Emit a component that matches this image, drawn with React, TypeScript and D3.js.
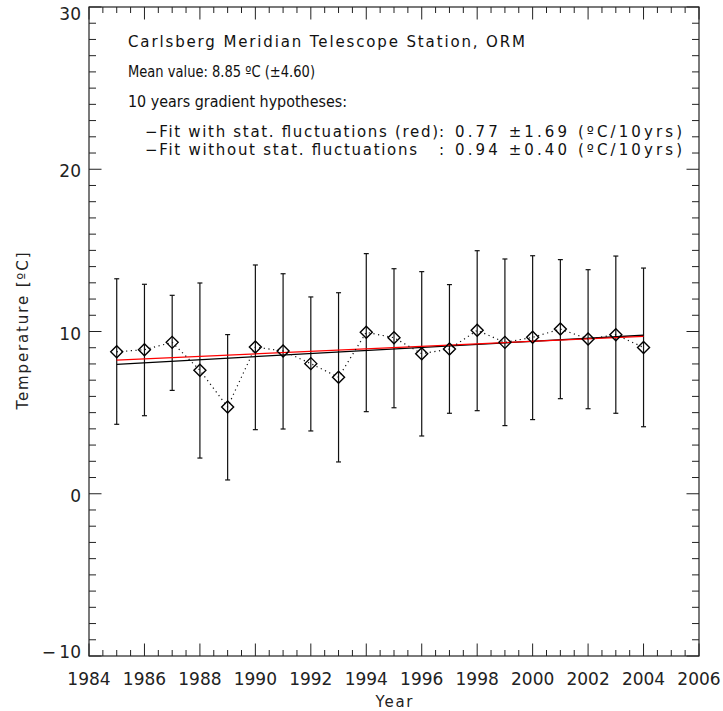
import React, { useRef, useEffect } from "react";
import * as d3 from "d3";

// yearly mean temperature with its error range (ºC)
const years = [1985, 1986, 1987, 1988, 1989, 1990, 1991, 1992, 1993, 1994, 1995, 1996, 1997, 1998, 1999, 2000, 2001, 2002, 2003, 2004];
const meanTemp = [8.75, 8.88, 9.33, 7.61, 5.35, 9.04, 8.8, 8.02, 7.18, 9.95, 9.62, 8.63, 8.92, 10.07, 9.33, 9.64, 10.15, 9.54, 9.8, 9.02];
const upperTemp = [13.25, 12.91, 12.23, 12.99, 9.81, 14.1, 13.56, 12.13, 12.39, 14.8, 13.87, 13.69, 12.89, 14.98, 14.47, 14.67, 14.43, 13.81, 14.65, 13.91];
const lowerTemp = [4.28, 4.81, 6.37, 2.2, 0.85, 3.95, 3.99, 3.87, 1.96, 5.06, 5.3, 3.56, 4.96, 5.12, 4.2, 4.57, 5.86, 5.24, 4.96, 4.13];

// fit lines: value at first and last year
const fitYears = [1985, 2004];
const redFit = [8.24, 9.7];
const blackFit = [7.98, 9.77];

const xTicks = [1984, 1986, 1988, 1990, 1992, 1994, 1996, 1998, 2000, 2002, 2004, 2006];
const yTicks = [-10, 0, 10, 20, 30];

const infoLines = [
  "Carlsberg Meridian Telescope Station, ORM",
  "Mean value: 8.85 ºC (±4.60)",
  "10 years gradient hypotheses:",
];
const fitLabels = ["−Fit with stat. fluctuations (red)", "−Fit without stat. fluctuations"];
const fitValues = [": 0.77  ±1.69 (ºC/10yrs)", ": 0.94  ±0.40 (ºC/10yrs)"];

const FONT = "'DejaVu Sans', sans-serif";

const App = () => {
  const svgRef = useRef(null);

  useEffect(() => {
    const width = 723, height = 711;
    const margin = { top: 7, right: 24, bottom: 55, left: 89 };

    const svg = d3.select(svgRef.current)
      .attr("width", width)
      .attr("height", height);

    svg.selectAll("*").remove();

    const x = d3.scaleLinear()
      .domain([1984, 2006])
      .range([margin.left, width - margin.right]);

    const y = d3.scaleLinear()
      .domain([-10, 30])
      .range([height - margin.bottom, margin.top]);

    const axisColor = "#222";

    // frame
    svg.append("rect")
      .attr("x", x(1984))
      .attr("y", y(30))
      .attr("width", x(2006) - x(1984))
      .attr("height", y(-10) - y(30))
      .attr("fill", "none")
      .attr("stroke", axisColor)
      .attr("stroke-width", 1.2);

    // x ticks: major every 2 yrs, minor every half year
    const xMinor = d3.range(1984, 2006.01, 0.5);
    xMinor.forEach(v => {
      const major = Math.abs(v / 2 - Math.round(v / 2)) < 1e-6;
      const len = major ? 12.5 : 6;
      svg.append("line")
        .attr("x1", x(v)).attr("x2", x(v))
        .attr("y1", y(-10)).attr("y2", y(-10) - len)
        .attr("stroke", axisColor);
      svg.append("line")
        .attr("x1", x(v)).attr("x2", x(v))
        .attr("y1", y(30)).attr("y2", y(30) + len)
        .attr("stroke", axisColor);
    });

    // y ticks: major every 10, minor every 1
    const yMinor = d3.range(-10, 30.01, 1);
    yMinor.forEach(v => {
      const major = v % 10 === 0;
      const len = major ? 12.5 : 7;
      svg.append("line")
        .attr("x1", x(1984)).attr("x2", x(1984) + len)
        .attr("y1", y(v)).attr("y2", y(v))
        .attr("stroke", axisColor);
      svg.append("line")
        .attr("x1", x(2006)).attr("x2", x(2006) - len)
        .attr("y1", y(v)).attr("y2", y(v))
        .attr("stroke", axisColor);
    });

    svg.selectAll(".xlab")
      .data(xTicks)
      .enter()
      .append("text")
      .attr("x", d => x(d))
      .attr("y", 685)
      .attr("text-anchor", "middle")
      .style("font-family", FONT)
      .style("font-size", "17px")
      .attr("fill", "#222")
      .text(d => d);

    // end labels are pushed inside the frame, as in the original
    svg.selectAll(".ylab")
      .data(yTicks)
      .enter()
      .append("text")
      .attr("x", x(1984) - 8)
      .attr("y", d => Math.min(Math.max(y(d) + 8, 19.5), 657.5))
      .attr("text-anchor", "end")
      .style("font-family", FONT)
      .style("font-size", "17px")
      .attr("fill", "#222")
      .text(d => (d < 0 ? "−\u2009" + Math.abs(d) : d));

    // axis titles
    svg.append("text")
      .attr("x", x(1995))
      .attr("y", 707)
      .attr("text-anchor", "middle")
      .style("font-family", FONT)
      .style("font-size", "15px")
      .attr("textLength", 37)
      .attr("lengthAdjust", "spacing")
      .attr("fill", "#222")
      .text("Year");

    svg.append("text")
      .attr("transform", `translate(28,331) rotate(-90)`)
      .attr("text-anchor", "middle")
      .style("font-family", FONT)
      .style("font-size", "15px")
      .attr("textLength", 157)
      .attr("lengthAdjust", "spacing")
      .attr("fill", "#222")
      .text("Temperature [ºC]");

    // error bars
    const cap = 2.5;
    years.forEach((yr, i) => {
      const cx = x(yr);
      svg.append("line")
        .attr("x1", cx).attr("x2", cx)
        .attr("y1", y(upperTemp[i])).attr("y2", y(lowerTemp[i]))
        .attr("stroke", "#111").attr("stroke-width", 1.2);
      [upperTemp[i], lowerTemp[i]].forEach(v => {
        svg.append("line")
          .attr("x1", cx - cap).attr("x2", cx + cap)
          .attr("y1", y(v)).attr("y2", y(v))
          .attr("stroke", "#111").attr("stroke-width", 1.2);
      });
    });

    // fit lines
    const fitLine = d3.line()
      .x((d, i) => x(fitYears[i]))
      .y(d => y(d));

    svg.append("path")
      .attr("d", fitLine(blackFit))
      .attr("fill", "none")
      .attr("stroke", "#000")
      .attr("stroke-width", 1.3);

    svg.append("path")
      .attr("d", fitLine(redFit))
      .attr("fill", "none")
      .attr("stroke", "#f00")
      .attr("stroke-width", 1.3);

    // dotted connecting line
    const meanLine = d3.line()
      .x((d, i) => x(years[i]))
      .y(d => y(d));

    svg.append("path")
      .attr("d", meanLine(meanTemp))
      .attr("fill", "none")
      .attr("stroke", "#111")
      .attr("stroke-width", 1.2)
      .attr("stroke-dasharray", "1.2,3.5");

    // diamonds
    const s = 6;
    svg.selectAll(".diamond")
      .data(meanTemp)
      .enter()
      .append("path")
      .attr("d", (d, i) => {
        const cx = x(years[i]), cy = y(d);
        return `M${cx},${cy - s}L${cx + s},${cy}L${cx},${cy + s}L${cx - s},${cy}Z`;
      })
      .attr("fill", "none")
      .attr("stroke", "#000")
      .attr("stroke-width", 1.4);

    // info text
    const info = svg.append("g")
      .style("font-family", FONT)
      .style("font-size", "15px")
      .style("white-space", "pre")
      .attr("fill", "#111");

    const infoWidths = [397, 187, 219];
    const infoAdjust = ["spacing", "spacingAndGlyphs", "spacingAndGlyphs"];
    infoLines.forEach((t, i) => {
      info.append("text")
        .attr("x", 128)
        .attr("y", 47 + i * 30)
        .attr("textLength", infoWidths[i])
        .attr("lengthAdjust", infoAdjust[i])
        .text(t);
    });

    const labelWidths = [293, 272];
    fitLabels.forEach((t, i) => {
      const yy = i === 0 ? 137 : 155;
      info.append("text")
        .attr("x", 145)
        .attr("y", yy)
        .attr("textLength", labelWidths[i])
        .attr("lengthAdjust", "spacing")
        .text(t);
      info.append("text")
        .attr("x", 439)
        .attr("y", yy)
        .attr("textLength", 243)
        .attr("lengthAdjust", "spacing")
        .text(fitValues[i]);
    });
  }, []);

  return (
    <div style={{ position: "absolute", left: 0, top: 0 }}>
      <svg ref={svgRef} style={{ display: "block", background: "#fff" }}></svg>
    </div>
  );
};

export default App;
